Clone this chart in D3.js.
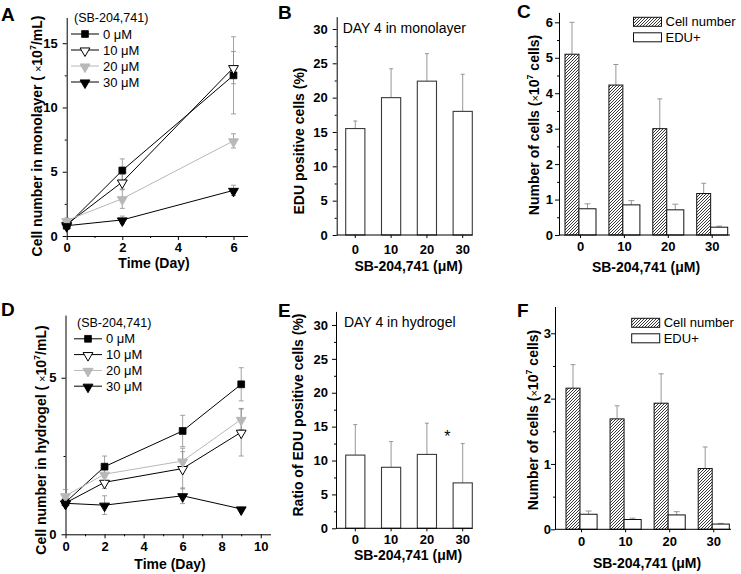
<!DOCTYPE html>
<html><head><meta charset="utf-8">
<script src="https://cdn.jsdelivr.net/npm/d3@7"></script>
<style>
body{margin:0;background:#fff}
svg{display:block}
text{font-family:"Liberation Sans",Arial,Helvetica,sans-serif}
</style>
</head><body>
<svg id="fig" width="741" height="574"></svg>
<script>
// ---------------- DATA ----------------
const concLabels = ["0 μM", "10 μM", "20 μM", "30 μM"];
const doseCats = ["0", "10", "20", "30"];

// Panel A: monolayer growth
const daysA = [0, 2, 6];
const monoMean = [
  [0.8, 5.1, 12.5],
  [0.9, 4.2, 13.1],
  [1.2, 2.9, 7.4],
  [0.8, 1.25, 3.55]
];
const monoErr = [
  [0.2, 0.9, 3.0],
  [0.2, 0.6, 1.25],
  [0.2, 0.75, 0.55],
  [0.1, 0.3, 0.4]
];

// Panel D: hydrogel growth
const daysD = [0, 2, 6, 9];
const gelMean = [
  [1.02, 2.16, 3.3, 4.79],
  [1.0, 1.66, 2.1, 3.26],
  [1.23, 1.92, 2.34, 3.67],
  [0.99, 0.93, 1.23, 0.81]
];
const gelErr = [
  [0.1, 0.34, 0.5, 0.53],
  [0.1, 0.2, 0.65, 0.76],
  [0.2, 0.3, 0.3, 0.33],
  [0.1, 0.3, 0.25, 0.05]
];

// Panel B: EDU positive, monolayer
const eduMono = [15.5, 20.0, 22.4, 18.0];
const eduMonoErr = [1.1, 4.2, 4.0, 5.4];

// Panel E: EDU positive, hydrogel
const eduGel = [10.8, 9.0, 10.9, 6.7];
const eduGelErr = [4.5, 3.8, 4.6, 5.8];

// Panel C: cell number & EDU+ (monolayer)
const cellNumC = [5.1, 4.23, 3.0, 1.17];
const cellNumCErr = [0.9, 0.58, 0.84, 0.29];
const eduPlusC = [0.74, 0.85, 0.71, 0.22];
const eduPlusCErr = [0.14, 0.12, 0.16, 0.03];

// Panel F: cell number & EDU+ (hydrogel)
const cellNumF = [2.16, 1.69, 1.93, 0.93];
const cellNumFErr = [0.36, 0.2, 0.45, 0.33];
const eduPlusF = [0.23, 0.15, 0.22, 0.08];
const eduPlusFErr = [0.05, 0.02, 0.05, 0.01];

// ---------------- DRAWING ----------------
const svg = d3.select("#fig");
svg.append("rect").attr("width", 741).attr("height", 574).attr("fill", "#fff");

const defs = svg.append("defs");
const pat = defs.append("pattern").attr("id", "hatch")
  .attr("patternUnits", "userSpaceOnUse").attr("width", 3).attr("height", 3);
pat.append("rect").attr("width", 3).attr("height", 3).attr("fill", "#fff");
pat.append("path").attr("d", "M-1,1 l2,-2 M0,3 l3,-3 M2,4 l2,-2")
  .attr("stroke", "#222").attr("stroke-width", 0.9);

const styles = [
  {line: "#000", fill: "#000", stroke: "#000", sym: "square"},
  {line: "#000", fill: "#fff", stroke: "#000", sym: "tri"},
  {line: "#b8b8b8", fill: "#b8b8b8", stroke: "#b8b8b8", sym: "tri"},
  {line: "#000", fill: "#000", stroke: "#000", sym: "tri"}
];
const errColor = "#8c8c8c";

function marker(g, st, x, y) {
  if (st.sym === "square") {
    g.append("path").attr("d", d3.symbol(d3.symbolSquare, 46)())
      .attr("transform", `translate(${x},${y})`).attr("fill", st.fill).attr("stroke", st.stroke).attr("stroke-width", 0.8);
  } else {
    g.append("path").attr("d", d3.symbol(d3.symbolTriangle, 42)())
      .attr("transform", `translate(${x},${y + 0.8}) rotate(180)`).attr("fill", st.fill).attr("stroke", st.stroke).attr("stroke-width", 1);
  }
}

function styleAxis(sel, fs) {
  sel.selectAll("text").attr("font-size", fs).attr("font-weight", "bold").attr("fill", "#000")
    .attr("font-family", '"Liberation Sans",Arial,sans-serif');
  sel.selectAll("line").attr("stroke", "#000");
  sel.selectAll("path.domain").attr("stroke", "#000");
}

function yAxis(g, y, x0, major, minor, pad) {
  const ax = g.append("g").attr("transform", `translate(${x0},0)`)
    .call(d3.axisLeft(y).tickValues(major).tickSize(4).tickSizeOuter(0).tickPadding(pad).tickFormat(d3.format("~g")));
  styleAxis(ax, 13);
  if (minor.length) {
    const mx = g.append("g").attr("transform", `translate(${x0},0)`)
      .call(d3.axisLeft(y).tickValues(minor).tickSize(2).tickFormat(""));
    mx.select("path.domain").remove();
    mx.selectAll("line").attr("stroke", "#000");
  }
}

function panelLetter(t, x, y) {
  svg.append("text").attr("x", x).attr("y", y).attr("font-size", 19).attr("font-weight", "bold").text(t);
}

function yTitle(parts, cx, cy) {
  const t = svg.append("text").attr("transform", `translate(${cx},${cy}) rotate(-90)`)
    .attr("text-anchor", "middle").attr("font-size", 14).attr("font-weight", "bold");
  parts.forEach(p => {
    const s = t.append("tspan").text(p.t);
    if (p.w) s.attr("font-weight", p.w);
    if (p.fs) s.attr("font-size", p.fs);
    if (p.dy) s.attr("dy", p.dy);
  });
}

function xTitle(txt, cx, by) {
  svg.append("text").attr("x", cx).attr("y", by).attr("text-anchor", "middle")
    .attr("font-size", 14).attr("font-weight", "bold").text(txt);
}

function lineChart(c) {
  const g = svg.append("g");
  const x = d3.scaleLinear().domain(c.xDomain).range(c.xRange);
  const y = d3.scaleLinear().domain(c.yDomain).range(c.yRange);
  const ax = g.append("g").attr("transform", `translate(0,${c.yRange[0]})`)
    .call(d3.axisBottom(x).tickValues(c.xMajor).tickSize(4).tickSizeOuter(0).tickPadding(3).tickFormat(d3.format("d")));
  styleAxis(ax, 13);
  const mx = g.append("g").attr("transform", `translate(0,${c.yRange[0]})`)
    .call(d3.axisBottom(x).tickValues(c.xMinor).tickSize(2).tickFormat(""));
  mx.select("path.domain").remove(); mx.selectAll("line").attr("stroke", "#000");
  yAxis(g, y, c.xRange[0], c.yMajor, c.yMinor, 5);

  c.means.forEach((ser, si) => {
    ser.forEach((v, i) => {
      const e = c.errs[si][i];
      const px = x(c.days[i]);
      g.append("line").attr("x1", px).attr("x2", px).attr("y1", y(v - e)).attr("y2", y(v + e))
        .attr("stroke", errColor).attr("stroke-width", 0.8);
      [v - e, v + e].forEach(w => g.append("line").attr("x1", px - 2.5).attr("x2", px + 2.5)
        .attr("y1", y(w)).attr("y2", y(w)).attr("stroke", errColor).attr("stroke-width", 0.8));
    });
  });
  const lineGen = d3.line().x((d, i) => x(c.days[i])).y(d => y(d));
  c.means.forEach((ser, si) => {
    g.append("path").attr("d", lineGen(ser)).attr("fill", "none")
      .attr("stroke", styles[si].line).attr("stroke-width", 1);
  });
  c.means.forEach((ser, si) => ser.forEach((v, i) => marker(g, styles[si], x(c.days[i]), y(v))));

  const L = c.legend;
  g.append("text").attr("x", L.x + 3).attr("y", L.y).attr("font-size", 12.5).text("(SB-204,741)");
  concLabels.forEach((lab, i) => {
    const ry = L.y + L.dy * (i + 1) - 4;
    g.append("line").attr("x1", L.x).attr("x2", L.x + 28).attr("y1", ry).attr("y2", ry)
      .attr("stroke", styles[i].line).attr("stroke-width", 1);
    marker(g, styles[i], L.x + 14, ry);
    g.append("text").attr("x", L.x + 32).attr("y", ry + 4.5).attr("font-size", 13).text(lab);
  });
}

function barAxes(g, c, x, y) {
  g.append("line").attr("x1", c.axisX).attr("x2", c.axisEnd).attr("y1", c.yRange[0]).attr("y2", c.yRange[0])
    .attr("stroke", "#000");
  const ax = g.append("g").attr("transform", `translate(0,${c.yRange[0]})`)
    .call(d3.axisBottom(x).tickSize(3).tickPadding(c.xPad));
  ax.select("path.domain").remove();
  styleAxis(ax, 13);
  yAxis(g, y, c.axisX, c.yMajor, c.yMinor, c.yPad);
}

function errUp(g, px, y0, y1, cap) {
  g.append("line").attr("x1", px).attr("x2", px).attr("y1", y0).attr("y2", y1)
    .attr("stroke", errColor).attr("stroke-width", 0.9);
  g.append("line").attr("x1", px - cap).attr("x2", px + cap).attr("y1", y1).attr("y2", y1)
    .attr("stroke", errColor).attr("stroke-width", 0.9);
}

function barChart(c) {
  const g = svg.append("g");
  const x = d3.scaleBand().domain(doseCats).range(c.bandRange).paddingInner(c.pi).paddingOuter(0);
  const y = d3.scaleLinear().domain(c.yDomain).range(c.yRange);
  c.vals.forEach((v, i) => {
    const cx = x(doseCats[i]) + x.bandwidth() / 2;
    errUp(g, cx, y(v), y(v + c.errs[i]), 2);
  });
  g.selectAll("rect.bar").data(c.vals).join("rect").attr("class", "bar")
    .attr("x", (d, i) => x(doseCats[i])).attr("width", x.bandwidth())
    .attr("y", d => y(d)).attr("height", d => y(0) - y(d))
    .attr("fill", "#fff").attr("stroke", "#3a3a3a").attr("stroke-width", 1.1);
  barAxes(g, c, x, y);
  g.append("text").attr("x", c.note.x).attr("y", c.note.y).attr("font-size", 14).text(c.note.t);
}

function groupedChart(c) {
  const g = svg.append("g");
  const x = d3.scaleBand().domain(doseCats).range(c.bandRange).paddingInner(c.pi).paddingOuter(0);
  const y = d3.scaleLinear().domain(c.yDomain).range(c.yRange);
  const bw = x.bandwidth(), hw = bw * 0.45;
  c.cell.forEach((v, i) => {
    const x0 = x(doseCats[i]);
    errUp(g, x0 + hw / 2, y(v), y(v + c.cellErr[i]), 2.5);
    const w = c.edu[i];
    errUp(g, x0 + hw + (bw - hw) / 2, y(w), y(w + c.eduErr[i]), 3);
  });
  g.selectAll("rect.cell").data(c.cell).join("rect").attr("class", "cell")
    .attr("x", (d, i) => x(doseCats[i])).attr("width", hw)
    .attr("y", d => y(d)).attr("height", d => y(0) - y(d))
    .attr("fill", "url(#hatch)").attr("stroke", "#111").attr("stroke-width", 1);
  g.selectAll("rect.edu").data(c.edu).join("rect").attr("class", "edu")
    .attr("x", (d, i) => x(doseCats[i]) + hw).attr("width", bw - hw)
    .attr("y", d => y(d)).attr("height", d => y(0) - y(d))
    .attr("fill", "#fff").attr("stroke", "#111").attr("stroke-width", 1);
  barAxes(g, c, x, y);
  const L = c.legend;
  g.append("rect").attr("x", L.x).attr("y", L.y).attr("width", 28).attr("height", 9)
    .attr("fill", "url(#hatch)").attr("stroke", "#111");
  g.append("rect").attr("x", L.x).attr("y", L.y + 15.5).attr("width", 28).attr("height", 9)
    .attr("fill", "#fff").attr("stroke", "#111");
  g.append("text").attr("x", L.x + 32).attr("y", L.y + 9).attr("font-size", 13).text("Cell number");
  g.append("text").attr("x", L.x + 32).attr("y", L.y + 24.5).attr("font-size", 13).text("EDU+");
}

// ---- Panel A ----
lineChart({
  xDomain: [0, 6.5], xRange: [66.7, 247.4], yDomain: [0, 17], yRange: [236, 17.5],
  xMajor: [0, 2, 4, 6], xMinor: [1, 3, 5], yMajor: [0, 5, 10, 15], yMinor: [2.5, 7.5, 12.5],
  days: daysA, means: monoMean, errs: monoErr, legend: {x: 71, y: 22, dy: 16}
});
// ---- Panel D ----
lineChart({
  xDomain: [0, 10.5], xRange: [65.5, 270.5], yDomain: [0, 7], yRange: [534.3, 315.1],
  xMajor: [0, 2, 4, 6, 8, 10], xMinor: [1, 3, 5, 7, 9], yMajor: [0, 5], yMinor: [2.5],
  days: daysD, means: gelMean, errs: gelErr, legend: {x: 74, y: 327, dy: 15.8}
});
// ---- Panel B ----
barChart({
  bandRange: [345.7, 472.3], pi: 0.464, axisX: 336.7, axisEnd: 472.5,
  yDomain: [0, 31.8], yRange: [235, 16.6], yMajor: d3.range(0, 31, 5), yMinor: d3.range(2.5, 30, 5),
  xPad: 7, yPad: 5, vals: eduMono, errs: eduMonoErr,
  note: {x: 342.7, y: 33, t: "DAY 4 in monolayer"}
});
// ---- Panel E ----
barChart({
  bandRange: [345.7, 472.3], pi: 0.464, axisX: 336, axisEnd: 472.5,
  yDomain: [0, 32], yRange: [528.3, 311.4], yMajor: d3.range(0, 31, 5), yMinor: d3.range(2.5, 30, 5),
  xPad: 3, yPad: 4, vals: eduGel, errs: eduGelErr,
  note: {x: 344, y: 326.7, t: "DAY 4 in hydrogel"}
});
svg.append("text").attr("x", 447.3).attr("y", 441.5).attr("text-anchor", "middle").attr("font-size", 16).text("*");
// ---- Panel C ----
groupedChart({
  bandRange: [565, 727.7], pi: 0.294, axisX: 559, axisEnd: 730,
  yDomain: [0, 6.28], yRange: [235, 12.4], yMajor: d3.range(0, 7, 1), yMinor: d3.range(0.5, 6.2, 1),
  xPad: 4, yPad: 2, cell: cellNumC, cellErr: cellNumCErr, edu: eduPlusC, eduErr: eduPlusCErr,
  legend: {x: 633.5, y: 17.3}
});
// ---- Panel F ----
groupedChart({
  bandRange: [566, 729.3], pi: 0.294, axisX: 555, axisEnd: 731,
  yDomain: [0, 3.41], yRange: [529.3, 306.5], yMajor: [0, 1, 2, 3], yMinor: [0.5, 1.5, 2.5],
  xPad: 4, yPad: 0, cell: cellNumF, cellErr: cellNumFErr, edu: eduPlusF, eduErr: eduPlusFErr,
  legend: {x: 631.7, y: 318.3}
});

// ---- titles and letters ----
panelLetter("A", 1, 21); panelLetter("B", 278, 19); panelLetter("C", 517, 18);
panelLetter("D", 1, 316); panelLetter("E", 278, 317); panelLetter("F", 517, 317);

const sup = () => [{t: "×", w: "normal", fs: 11}, {t: "10"}, {t: "7", fs: 9, dy: -6}];
yTitle([{t: "Cell number in monolayer ( "}, ...sup(), {t: "/mL)", dy: 6}], 41.7, 136);
yTitle([{t: "Cell number in hydrogel ( "}, ...sup(), {t: "/mL)", dy: 6}], 46, 440);
yTitle([{t: "EDU positive cells (%)"}], 303.5, 141);
yTitle([{t: "Ratio of EDU positive cells (%)"}], 302.5, 415);
yTitle([{t: "Number of cells ("}, ...sup(), {t: " cells)", dy: 6}], 539, 125);
yTitle([{t: "Number of cells ("}, ...sup(), {t: " cells)", dy: 6}], 537.5, 420);

xTitle("Time (Day)", 154, 268);
xTitle("Time (Day)", 170, 569);
xTitle("SB-204,741 (μM)", 408.5, 271);
xTitle("SB-204,741 (μM)", 646, 272);
xTitle("SB-204,741 (μM)", 408, 560);
xTitle("SB-204,741 (μM)", 647, 568);
</script>
</body></html>
